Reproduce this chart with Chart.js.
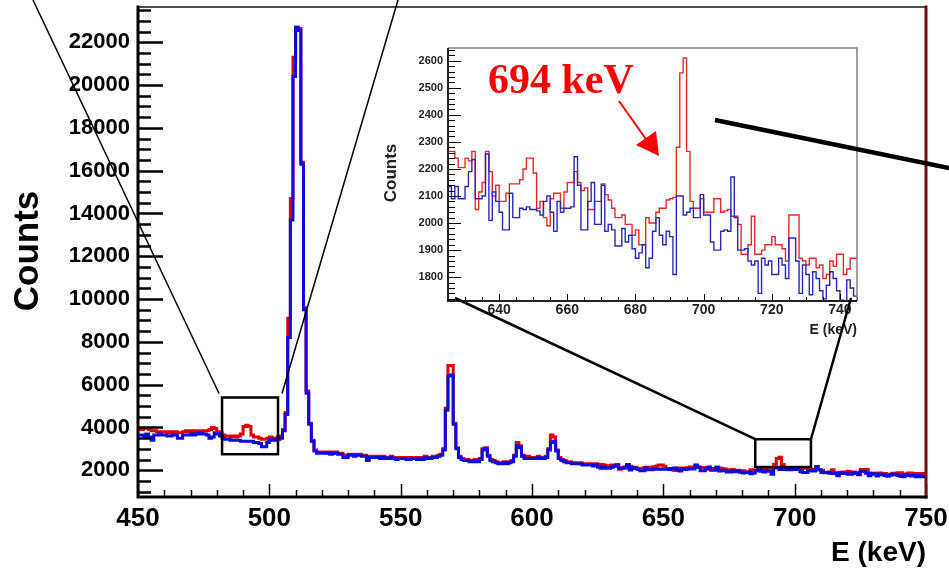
<!DOCTYPE html>
<html>
<head>
<meta charset="utf-8">
<script src="https://cdn.jsdelivr.net/npm/chart.js@4.4.1/dist/chart.umd.min.js"></script>
<style>
  html, body { margin: 0; padding: 0; background: #fff; }
  #wrap { position: relative; width: 949px; height: 571px; overflow: hidden; }
  #wrap canvas { position: absolute; left: 0; top: 0; }
</style>
</head>
<body>
<div id="wrap">
  <canvas id="mainChart" width="949" height="571"></canvas>
  <canvas id="insetChart" width="949" height="571"></canvas>
</div>
<script>
var mainXTicks = [450, 500, 550, 600, 650, 700, 750];
var mainYTicks = [2000, 4000, 6000, 8000, 10000, 12000, 14000, 16000, 18000, 20000, 22000];
var insetXTicks = [640, 660, 680, 700, 720, 740];
var insetYTicks = [1800, 1900, 2000, 2100, 2200, 2300, 2400, 2500, 2600];

// counts per 1 keV bin, 450 - 624 keV
var redLow = [
  3900, 3900, 3950, 3950, 3900, 3850, 3850, 3800, 3800, 3800,
  3800, 3750, 3800, 3750, 3800, 3750, 3750, 3800, 3850, 3800,
  3850, 3800, 3850, 3850, 3800, 3850, 3850, 3900, 4000, 3950,
  3800, 3750, 3650, 3600, 3600, 3550, 3600, 3550, 3600, 3700,
  4050, 4100, 4050, 3650, 3550, 3550, 3500, 3450, 3450, 3500,
  3550, 3500, 3500, 3550, 3600, 3900, 4700, 9100, 14700, 21300,
  22700, 22650, 16400, 9600, 5700, 4200, 3400, 2950, 2850, 2850,
  2850, 2850, 2800, 2850, 2800, 2850, 2800, 2800, 2700, 2650,
  2750, 2750, 2700, 2750, 2750, 2700, 2700, 2550, 2650, 2650,
  2650, 2650, 2600, 2650, 2600, 2600, 2650, 2600, 2600, 2600,
  2600, 2600, 2600, 2550, 2600, 2600, 2550, 2600, 2600, 2650,
  2600, 2600, 2650, 2650, 2700, 2750, 3000, 4900, 6900, 6900,
  4200, 3050, 2650, 2550, 2500, 2500, 2450, 2450, 2500, 2450,
  2550, 3000, 3050, 2700, 2500, 2450, 2400, 2350, 2350, 2400,
  2350, 2400, 2450, 2700, 3300, 3150, 2700, 2600, 2650, 2600,
  2600, 2600, 2650, 2600, 2600, 2650, 3000, 3650, 3550, 2950,
  2600, 2500, 2450, 2400, 2400, 2350, 2350, 2350, 2350, 2300,
  2300, 2300, 2300, 2250, 2300
];
var blueLow = [
  3650, 3650, 3600, 3700, 3550, 3400, 3650, 3650, 3700, 3650,
  3650, 3600, 3600, 3650, 3650, 3500, 3500, 3650, 3650, 3650,
  3700, 3650, 3700, 3750, 3700, 3700, 3650, 3500, 3550, 3750,
  3700, 3600, 3500, 3450, 3450, 3400, 3400, 3400, 3400, 3350,
  3350, 3350, 3350, 3350, 3300, 3300, 3250, 3100, 3100, 3300,
  3450, 3400, 3400, 3450, 3500, 3850, 4600, 8200, 13700, 20400,
  22700, 22550, 16300, 9500, 5600, 4150, 3350, 2900, 2800, 2800,
  2800, 2800, 2800, 2750, 2800, 2800, 2750, 2750, 2600, 2600,
  2700, 2700, 2650, 2700, 2700, 2650, 2650, 2450, 2600, 2600,
  2600, 2600, 2550, 2600, 2550, 2550, 2600, 2550, 2500, 2550,
  2550, 2550, 2500, 2500, 2550, 2550, 2500, 2550, 2500, 2600,
  2550, 2550, 2600, 2600, 2650, 2700, 2950, 4800, 6400, 6450,
  4150, 3000, 2600, 2500, 2450, 2450, 2400, 2400, 2450, 2400,
  2500, 2950, 3000, 2650, 2450, 2400, 2350, 2300, 2300, 2350,
  2300, 2350, 2400, 2650, 3150, 3050, 2650, 2550, 2550, 2550,
  2550, 2550, 2600, 2550, 2550, 2600, 2950, 3300, 3350, 2900,
  2550, 2450, 2400, 2350, 2350, 2300, 2300, 2300, 2300, 2250,
  2250, 2250, 2250, 2200, 2250
];

// counts per 1 keV bin, 625 - 744 keV (the range shown in the inset)
var redZoom = [
  2265, 2265, 2240, 2205, 2205, 2240, 2230, 2265, 2050, 2115,
  2150, 2265, 2190, 2100, 2140, 2080, 2080, 2110, 2145, 2145,
  2145, 2160, 2200, 2240, 2240, 2185, 2055, 2080, 2020, 1990,
  2090, 2110, 2110, 2055, 2115, 2150, 2150, 2190, 2150, 2120,
  2130, 2050, 2050, 2080, 2080, 2145, 2105, 2085, 2055, 2020,
  2020, 2030, 1995, 1995, 1955, 1975, 1920, 1920, 2020, 2000,
  2000, 2040, 2055, 2055, 2085, 2090, 2095, 2280, 2555, 2610,
  2265, 2080, 2055, 2055, 2090, 2040, 2040, 2040, 2090, 2090,
  2040, 2045, 2050, 2025, 2025, 1995, 1885, 1885, 1920, 2025,
  1885, 1885, 1900, 1920, 1920, 1950, 1920, 1920, 1905, 1860,
  2030, 2030, 2030, 1870, 1860, 1845, 1870, 1870, 1835, 1845,
  1795, 1810, 1860, 1840, 1885, 1885, 1810, 1830, 1870, 1870
];
var blueZoom = [
  2135, 2090, 2135, 2090, 2090, 2135, 2190, 2235, 2090, 2090,
  2100, 2255, 2010, 2115, 2080, 2040, 1975, 1975, 2110, 2020,
  2020, 2055, 2050, 2060, 2050, 2050, 2045, 2030, 2080, 2100,
  2040, 1970, 2080, 2040, 2055, 2055, 2060, 2245, 2140, 1975,
  1975, 2080, 2150, 1995, 1995, 2140, 1970, 1995, 1975, 1915,
  1915, 1980, 1930, 1955, 1905, 1870, 1890, 1920, 1835, 1870,
  1970, 2020, 1955, 1920, 1970, 1950, 1810, 2100, 2100, 2030,
  2040, 2055, 2020, 2020, 2105, 2030, 2030, 1930, 1900, 1900,
  1970, 1975, 1970, 2170, 2020, 1900, 1900, 1905, 1860, 1845,
  1860, 1740, 1870, 1845, 1860, 1810, 1810, 1870, 1845, 1795,
  1945, 1945, 1860, 1740, 1845, 1810, 1735, 1820, 1795, 1750,
  1720, 1770, 1820, 1795, 1750, 1715, 1700, 1790, 1760, 1730
];

// counts per 1 keV bin, 745 - 749 keV
var redHigh = [1850, 1800, 1850, 1800, 1850];
var blueHigh = [1750, 1700, 1750, 1700, 1700];

var FONT = "'Liberation Sans', Arial, Helvetica, sans-serif";
Chart.defaults.font.family = FONT;
Chart.defaults.color = '#000';

// histogram bins -> points for a stepped line (left edges + closing right edge)
function toSteps(start, counts) {
    var pts = counts.map(function(c, i) { return {x: start + i, y: c}; });
    pts.push({x: start + counts.length, y: counts[counts.length - 1]});
    return pts;
}

function histo(label, start, counts, color, width) {
    return {
        label: label,
        data: toSteps(start, counts),
        stepped: true,
        borderColor: color,
        borderWidth: width,
        borderJoinStyle: 'miter',
        pointRadius: 0,
        fill: false
    };
}

function tickList(values) {
    return function(scale) { scale.ticks = values.map(function(v) { return {value: v}; }); };
}

function plainNumber(v) { return String(v); }

// fixed axis boxes, no automatic edge padding for the labels
function fixWidth(w) {
    return function(scale) { scale.width = w; scale.paddingTop = 0; scale.paddingBottom = 0; };
}
function fixHeight(h) {
    return function(scale) { scale.height = h; scale.paddingLeft = 0; scale.paddingRight = 0; };
}

// ROOT style ticks, drawn inward from the left and bottom axes
function drawInnerTicks(chart, t) {
    var ctx = chart.ctx, xs = chart.scales.x, ys = chart.scales.y, a = chart.chartArea;
    ctx.save();
    ctx.strokeStyle = '#000';
    ctx.lineWidth = t.yWidth;
    for (var v = t.yFrom; v <= ys.max; v += t.yMinor) {
        var py = Math.round(ys.getPixelForValue(v)) + 0.5;
        if (py < a.top || py > a.bottom) continue;
        var len = (v % t.yMajor === 0) ? t.yLong : t.yShort;
        ctx.beginPath(); ctx.moveTo(a.left, py); ctx.lineTo(a.left + len, py); ctx.stroke();
    }
    ctx.lineWidth = t.xWidth;
    for (var e = t.xFrom; e <= xs.max; e += t.xMinor) {
        var px = Math.round(xs.getPixelForValue(e)) + 0.5;
        var l2 = (e % t.xMajor === 0) ? t.xLong : t.xShort;
        ctx.beginPath(); ctx.moveTo(px, a.bottom); ctx.lineTo(px, a.bottom - l2); ctx.stroke();
    }
    ctx.restore();
}

var mainFrame = {
    id: 'mainFrame',
    afterDatasetsDraw: function(chart) {
        var ctx = chart.ctx, a = chart.chartArea;
        drawInnerTicks(chart, {yFrom: 1000, yMinor: 500, yMajor: 2000, yLong: 25, yShort: 13, yWidth: 2.5,
                               xFrom: 450, xMinor: 10, xMajor: 50, xLong: 13, xShort: 7, xWidth: 1.5});
        ctx.save();
        ctx.lineCap = 'square';
        ctx.strokeStyle = '#111';
        ctx.lineWidth = 1.5;
        ctx.beginPath(); ctx.moveTo(a.left, a.top); ctx.lineTo(a.right, a.top); ctx.stroke();
        ctx.strokeStyle = '#6b1212';
        ctx.lineWidth = 3;
        ctx.beginPath(); ctx.moveTo(a.right, a.top); ctx.lineTo(a.right, a.bottom); ctx.stroke();
        ctx.strokeStyle = '#000';
        ctx.beginPath(); ctx.moveTo(a.left, a.top); ctx.lineTo(a.left, a.bottom); ctx.lineTo(a.right, a.bottom); ctx.stroke();

        ctx.fillStyle = '#000';
        ctx.font = 'bold 28px ' + FONT;
        ctx.textAlign = 'right';
        ctx.textBaseline = 'alphabetic';
        ctx.fillText('E (keV)', a.right, 561);
        ctx.translate(28, 251);
        ctx.rotate(-Math.PI / 2);
        ctx.font = 'bold 35px ' + FONT;
        ctx.textAlign = 'center';
        ctx.textBaseline = 'middle';
        ctx.fillText('Counts', 0, 0);
        ctx.restore();
    }
};

var mainChart = new Chart(document.getElementById('mainChart'), {
    type: 'line',
    data: {
        datasets: [
            histo('blue', 450, blueLow.concat(blueZoom, blueHigh), 'rgb(10,10,225)', 3),
            histo('red', 450, redLow.concat(redZoom, redHigh), 'rgb(225,0,0)', 3)
        ]
    },
    options: {
        responsive: false,
        animation: false,
        events: [],
        devicePixelRatio: 1,
        layout: {padding: {top: 7, right: 23, left: 0, bottom: 0}},
        plugins: {legend: {display: false}, tooltip: {enabled: false}},
        scales: {
            x: {
                type: 'linear', min: 450, max: 750,
                afterBuildTicks: tickList(mainXTicks),
                afterFit: fixHeight(74),
                grid: {display: false, drawTicks: false},
                border: {display: false},
                ticks: {font: {size: 26, weight: 'bold'}, padding: 6, maxRotation: 0, minRotation: 0,
                        autoSkip: false, callback: plainNumber}
            },
            y: {
                type: 'linear', min: 750, max: 23650,
                afterBuildTicks: tickList(mainYTicks),
                afterFit: fixWidth(138),
                grid: {display: false, drawTicks: false},
                border: {display: false},
                ticks: {font: {size: 22, weight: 'bold'}, padding: 8, autoSkip: false, callback: plainNumber}
            }
        }
    },
    plugins: [mainFrame]
});

// annotations: zoom boxes, connecting lines, arrow and peak label
function drawOverlay(ctx) {
    var mx = mainChart.scales.x, my = mainChart.scales.y;
    function box(e0, e1, c0, c1) {
        var x0 = mx.getPixelForValue(e0), x1 = mx.getPixelForValue(e1);
        var y0 = my.getPixelForValue(c1), y1 = my.getPixelForValue(c0);
        ctx.strokeRect(x0, y0, x1 - x0, y1 - y0);
        return {l: x0, r: x1, t: y0};
    }
    function seg(x0, y0, x1, y1, w) {
        ctx.lineWidth = w;
        ctx.beginPath(); ctx.moveTo(x0, y0); ctx.lineTo(x1, y1); ctx.stroke();
    }
    ctx.save();
    ctx.strokeStyle = '#000';
    ctx.lineWidth = 2.5;
    var b1 = box(482, 503.3, 2750, 5400);
    ctx.lineWidth = 2.5;
    var b2 = box(685, 706.2, 2150, 3450);
    seg(33, 0, b1.l - 3, b1.t - 4, 1.5);
    seg(398, 0, b1.r + 4, b1.t - 4, 1.5);
    seg(455, 298, b2.l, b2.t, 2.5);
    seg(b2.r, b2.t, 851, 298, 2.5);
    seg(715, 120, 949, 168, 4.5);

    // red arrow
    ctx.strokeStyle = '#f00';
    ctx.fillStyle = '#f00';
    seg(619, 101, 648, 142, 2);
    ctx.beginPath();
    ctx.moveTo(659, 156);
    ctx.lineTo(636, 145);
    ctx.lineTo(656, 131);
    ctx.closePath();
    ctx.fill();

    ctx.font = "bold 42px 'Liberation Serif', 'Times New Roman', serif";
    ctx.textAlign = 'left';
    ctx.textBaseline = 'alphabetic';
    ctx.fillText('694 keV', 488, 93);
    ctx.restore();
}

var insetFrame = {
    id: 'insetFrame',
    beforeDatasetsDraw: function(chart) {
        var ctx = chart.ctx, a = chart.chartArea;
        ctx.save();
        ctx.fillStyle = '#fff';
        ctx.fillRect(a.left, a.top, a.right - a.left, a.bottom - a.top);
        ctx.restore();
    },
    afterDatasetsDraw: function(chart) {
        var ctx = chart.ctx, a = chart.chartArea;
        drawInnerTicks(chart, {yFrom: 1720, yMinor: 20, yMajor: 100, yLong: 13, yShort: 7, yWidth: 1,
                               xFrom: 625, xMinor: 5, xMajor: 20, xLong: 7, xShort: 4, xWidth: 1});
        ctx.save();
        ctx.strokeStyle = '#8c7b78';
        ctx.lineWidth = 1.5;
        ctx.beginPath(); ctx.moveTo(a.left, a.top); ctx.lineTo(a.right, a.top); ctx.lineTo(a.right, a.bottom); ctx.stroke();
        ctx.strokeStyle = '#222';
        ctx.lineWidth = 2;
        ctx.beginPath(); ctx.moveTo(a.left, a.top); ctx.lineTo(a.left, a.bottom); ctx.lineTo(a.right, a.bottom); ctx.stroke();

        ctx.fillStyle = '#222';
        ctx.font = 'bold 14px ' + FONT;
        ctx.textAlign = 'right';
        ctx.textBaseline = 'alphabetic';
        ctx.fillText('E (keV)', a.right, 334);
        ctx.translate(391, 173);
        ctx.rotate(-Math.PI / 2);
        ctx.font = 'bold 17px ' + FONT;
        ctx.textAlign = 'center';
        ctx.textBaseline = 'middle';
        ctx.fillText('Counts', 0, 0);
        ctx.restore();
    },
    afterDraw: function(chart) {
        drawOverlay(chart.ctx);
    }
};

var insetChart = new Chart(document.getElementById('insetChart'), {
    type: 'line',
    data: {
        datasets: [
            histo('blue', 625, blueZoom, 'rgb(40,40,185)', 1.4),
            histo('red', 625, redZoom, 'rgb(222,45,40)', 1.4)
        ]
    },
    options: {
        responsive: false,
        animation: false,
        events: [],
        devicePixelRatio: 1,
        layout: {padding: {top: 48, right: 92, left: 0, bottom: 0}},
        plugins: {legend: {display: false}, tooltip: {enabled: false}},
        scales: {
            x: {
                type: 'linear', min: 625, max: 745,
                afterBuildTicks: tickList(insetXTicks),
                afterFit: fixHeight(270),
                grid: {display: false, drawTicks: false},
                border: {display: false},
                ticks: {font: {size: 14, weight: 'bold'}, color: '#222', padding: 1, maxRotation: 0, minRotation: 0,
                        autoSkip: false, callback: plainNumber}
            },
            y: {
                type: 'linear', min: 1712, max: 2647,
                afterBuildTicks: tickList(insetYTicks),
                afterFit: fixWidth(448),
                grid: {display: false, drawTicks: false},
                border: {display: false},
                ticks: {font: {size: 11, weight: 'bold'}, color: '#222', padding: 5, autoSkip: false, callback: plainNumber}
            }
        }
    },
    plugins: [insetFrame]
});
</script>
</body>
</html>
